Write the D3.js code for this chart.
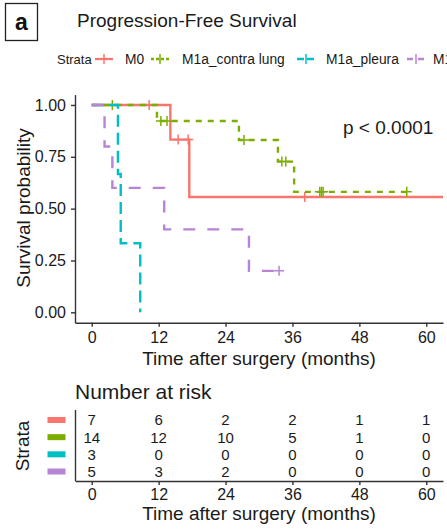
<!DOCTYPE html>
<html><head><meta charset="utf-8">
<script src="https://cdn.jsdelivr.net/npm/d3@7"></script>
<style>
html,body{margin:0;padding:0;background:#fff;}
svg{display:block;font-family:"Liberation Sans",Arial,sans-serif;}
</style></head>
<body><svg id="c" width="447" height="529"></svg>
<script>
// ---- data ----
const strata = ["M0", "M1a_contra lung", "M1a_pleura", "M1b"];
const colors = ["#F8766D", "#7CAE00", "#00BFC4", "#B884D6"];
const dashes = [null, "6,6", "12,6", "12,12"];
// step curves: [time (months), survival probability]
const survM0 = [[0,1],[14.1,0.833],[17.5,0.556],[63,0.556]];
const survContra = [[0,1],[11.7,0.923],[26.4,0.831],[33.4,0.727],[36.3,0.581],[56.5,0.581]];
const survPleura = [[0,1],[4.7,0.667],[5.2,0.333],[8.7,0]];
const survM1b = [[0,1],[2.3,0.8],[3.7,0.6],[13.0,0.4],[28.2,0.2],[33.6,0.2]];
// censoring times
const censM0 = [10.3, 15.5, 17.3, 38.2];
const censContra = [3.7, 12.4, 13.5, 27.3, 34.1, 34.8, 40.9, 41.2, 41.5, 56.5];
const censPleura = [];
const censM1b = [33.6];
const timeTicks = [0, 12, 24, 36, 48, 60];
const survTicks = [0, 0.25, 0.5, 0.75, 1];
// number at risk at each time tick
const riskM0 = [7, 6, 2, 2, 1, 1];
const riskContra = [14, 12, 10, 5, 1, 0];
const riskPleura = [3, 0, 0, 0, 0, 0];
const riskM1b = [5, 3, 2, 0, 0, 0];

const curves = [survM0, survContra, survPleura, survM1b];
const cens = [censM0, censContra, censPleura, censM1b];
const risks = [riskM0, riskContra, riskPleura, riskM1b];

const svg = d3.select("#c");
svg.append("rect").attr("width",447).attr("height",529).attr("fill","#fff");
const txt = "#1a1a1a";

// panel label
svg.append("rect").attr("x",5.5).attr("y",3.5).attr("width",32).attr("height",37)
  .attr("fill","none").attr("stroke","#222").attr("stroke-width",1.3);
svg.append("text").attr("x",21.5).attr("y",30).attr("text-anchor","middle")
  .attr("font-size",23).attr("font-weight","bold").attr("fill","#111").text("a");

// title
svg.append("text").attr("x",77).attr("y",27).attr("font-size",19).attr("fill",txt)
  .text("Progression-Free Survival");

// scales
const x = d3.scaleLinear().domain([-3,63]).range([75,443]);
const y = d3.scaleLinear().domain([-0.05,1.05]).range([322.7,94.6]);

// legend
const legY = 59;
svg.append("text").attr("x",57).attr("y",legY).attr("dy","0.35em").attr("font-size",13)
  .attr("fill",txt).text("Strata");
const keyX = [95, 151, 297, 407];
const labX = [125, 182, 326, 433];
strata.forEach((s,i)=>{
  const g = svg.append("g");
  g.append("line").attr("x1",keyX[i]).attr("x2",keyX[i]+18).attr("y1",legY).attr("y2",legY)
    .attr("stroke",colors[i]).attr("stroke-width",2.3)
    .attr("stroke-dasharray", i===0?null:(i===1?"3,2":(i===2?"7,3":"6,5")));
  g.append("line").attr("x1",keyX[i]+9).attr("x2",keyX[i]+9).attr("y1",legY-5).attr("y2",legY+5)
    .attr("stroke",colors[i]).attr("stroke-width",1.5);
  g.append("text").attr("x",labX[i]).attr("y",legY).attr("dy","0.35em").attr("font-size",13.8)
    .attr("fill",txt).text(s);
});

// axes main
const gx = svg.append("g").attr("transform","translate(0,322.7)")
  .call(d3.axisBottom(x).tickValues(timeTicks).tickSize(4).tickSizeOuter(0).tickPadding(5));
const gy = svg.append("g").attr("transform","translate(75,0)")
  .call(d3.axisLeft(y).tickValues(survTicks).tickFormat(d3.format(".2f")).tickSize(4).tickSizeOuter(0).tickPadding(5));
[gx,gy].forEach(g=>{
  g.selectAll("path,line").attr("stroke","#333").attr("stroke-width",1.4);
  g.selectAll("text").attr("font-size",16).attr("fill",txt).attr("font-family","Liberation Sans, Arial, sans-serif");
});

svg.append("text").attr("x",259).attr("y",358).attr("dy","0.35em").attr("text-anchor","middle")
  .attr("font-size",19).attr("fill",txt).text("Time after surgery (months)");
svg.append("text").attr("transform","translate(23,208) rotate(-90)").attr("dy","0.35em")
  .attr("text-anchor","middle").attr("font-size",19).attr("fill",txt).text("Survival probability");

// curves
const line = d3.line().x(d=>x(d[0])).y(d=>y(d[1])).curve(d3.curveStepAfter);
function survAt(c,t){ let s=1; c.forEach(p=>{ if(p[0]<=t) s=p[1]; }); return s; }
curves.forEach((c,i)=>{
  svg.append("path").datum(c).attr("d",line).attr("fill","none")
    .attr("stroke",colors[i]).attr("stroke-width",2.4).attr("stroke-dasharray",dashes[i]);
  cens[i].forEach(t=>{
    const cx = x(t), cy = y(survAt(c,t));
    svg.append("path").attr("d",`M${cx-5},${cy}H${cx+5}M${cx},${cy-5}V${cy+5}`)
      .attr("stroke",colors[i]).attr("stroke-width",1.5).attr("fill","none");
  });
});

svg.append("text").attr("x",343).attr("y",127).attr("dy","0.35em").attr("font-size",19)
  .attr("fill",txt).text("p < 0.0001");

// risk table
svg.append("text").attr("x",75).attr("y",392).attr("dy","0.35em").attr("font-size",21)
  .attr("fill",txt).text("Number at risk");
const ry = d3.scalePoint().domain(strata).range([420,471.5]);
const grx = svg.append("g").attr("transform","translate(0,481)")
  .call(d3.axisBottom(x).tickValues(timeTicks).tickSize(4).tickSizeOuter(0).tickPadding(4));
grx.selectAll("path,line").attr("stroke","#333").attr("stroke-width",1.4);
grx.selectAll("text").attr("font-size",16).attr("fill",txt).attr("font-family","Liberation Sans, Arial, sans-serif");
svg.append("line").attr("x1",75.5).attr("x2",75.5).attr("y1",410).attr("y2",481)
  .attr("stroke","#333").attr("stroke-width",1.4);
strata.forEach((s,i)=>{
  svg.append("rect").attr("x",47.5).attr("y",ry(s)-3).attr("width",18).attr("height",6)
    .attr("fill",colors[i]);
  risks[i].forEach((v,j)=>{
    svg.append("text").attr("x",x(timeTicks[j])).attr("y",ry(s)).attr("dy","0.36em")
      .attr("text-anchor","middle").attr("font-size",15).attr("fill",txt).text(v);
  });
});
svg.append("text").attr("x",259).attr("y",513).attr("dy","0.35em").attr("text-anchor","middle")
  .attr("font-size",19).attr("fill",txt).text("Time after surgery (months)");
svg.append("text").attr("transform","translate(22,446) rotate(-90)").attr("dy","0.35em")
  .attr("text-anchor","middle").attr("font-size",19).attr("fill",txt).text("Strata");
</script></body></html>
